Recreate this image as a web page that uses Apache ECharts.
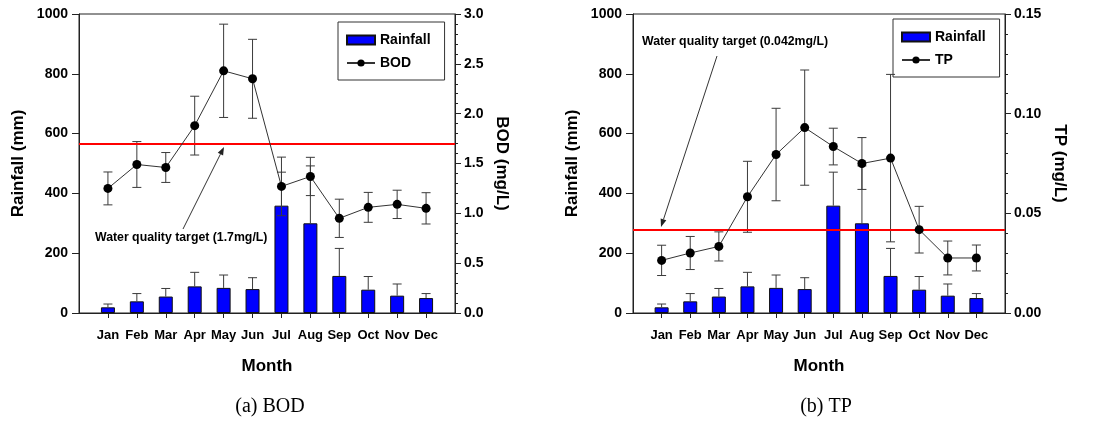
<!DOCTYPE html>
<html>
<head>
<meta charset="utf-8">
<script src="https://cdn.jsdelivr.net/npm/echarts@6/dist/echarts.min.js"></script>
<style>
html,body{margin:0;padding:0;background:#fff;}
#chart{width:1101px;height:422px;}
</style>
</head>
<body>
<div id="chart"></div>
<script>
// ---- data ----
const months = ['Jan','Feb','Mar','Apr','May','Jun','Jul','Aug','Sep','Oct','Nov','Dec'];
const rainfall = [19, 39, 55, 89, 84, 80, 359, 300, 124, 78, 58, 50];
const rainfallErr = [11, 26, 27, 47, 43, 38, 112, 192, 92, 44, 39, 15];
const bod = [1.25, 1.49, 1.46, 1.88, 2.43, 2.35, 1.27, 1.37, 0.95, 1.06, 1.09, 1.05];
const bodErr = [0.165, 0.23, 0.15, 0.295, 0.468, 0.396, 0.294, 0.192, 0.192, 0.15, 0.142, 0.157];
const tp = [0.0264, 0.0301, 0.0334, 0.0583, 0.0795, 0.0930, 0.0835, 0.0750, 0.0777, 0.0418, 0.0276, 0.0276];
const tpErr = [0.0076, 0.0083, 0.0073, 0.0178, 0.0232, 0.0289, 0.0092, 0.013, 0.042, 0.0117, 0.0085, 0.0065];
const bodTarget = 1.7;
const tpTarget = 0.042;
const rainTicks = [0, 1000, 200];
const bodTicks = [0, 3.0, 0.5];
const tpTicks = [0, 0.15, 0.05];

// ---- build ----
const xCats = [''].concat(months).concat(['']);
const FONT = 'Liberation Sans, Arial, sans-serif';
const AXC = '#222';

function errRender(lowCap) {
  return function (params, api) {
    const x = api.value(0);
    const lo = api.value(1), hi = api.value(2);
    const pHi = api.coord([x, hi]);
    const pLo = api.coord([x, lo]);
    const h = 4.5;
    const st = { stroke: '#3a3a3a', lineWidth: 1 };
    const ch = [
      { type: 'line', shape: { x1: pHi[0], y1: pHi[1], x2: pLo[0], y2: pLo[1] }, style: st },
      { type: 'line', shape: { x1: pHi[0] - h, y1: pHi[1], x2: pHi[0] + h, y2: pHi[1] }, style: st }
    ];
    if (lowCap) ch.push({ type: 'line', shape: { x1: pLo[0] - h, y1: pLo[1], x2: pLo[0] + h, y2: pLo[1] }, style: st });
    return { type: 'group', children: ch };
  };
}

function xAxis(gi) {
  return {
    type: 'category', gridIndex: gi, data: xCats, boundaryGap: false,
    axisLine: { lineStyle: { color: AXC, width: 1 } },
    axisTick: { length: 5, interval: (i, v) => v !== '', lineStyle: { color: AXC } },
    axisLabel: { interval: (i, v) => v !== '', margin: 16, fontFamily: FONT, fontWeight: 'bold', fontSize: 13, color: '#000' },
    name: 'Month', nameLocation: 'middle', nameGap: 45,
    nameTextStyle: { fontFamily: FONT, fontWeight: 'bold', fontSize: 17, color: '#000' },
    splitLine: { show: false }
  };
}
function leftAxis(gi) {
  return {
    type: 'value', gridIndex: gi, min: rainTicks[0], max: rainTicks[1], interval: rainTicks[2],
    position: 'left',
    axisLine: { show: true, lineStyle: { color: AXC } },
    axisTick: { show: true, length: 7, lineStyle: { color: AXC } },
    axisLabel: { margin: 11, fontFamily: FONT, fontWeight: 'bold', fontSize: 14, color: '#000',
      formatter: v => String(v) },
    splitLine: { show: false },
    name: 'Rainfall (mm)', nameLocation: 'middle', nameGap: 52, nameRotate: 90,
    nameTextStyle: { fontFamily: FONT, fontWeight: 'bold', fontSize: 17, color: '#000' }
  };
}
function rightAxis(gi, t, name, dec) {
  return {
    type: 'value', gridIndex: gi, min: t[0], max: t[1], interval: t[2],
    position: 'right',
    axisLine: { show: true, lineStyle: { color: AXC } },
    axisTick: { show: true, length: 6, lineStyle: { color: AXC } },
    minorTick: { show: true, splitNumber: 5, length: 3, lineStyle: { color: AXC } },
    axisLabel: { margin: 9, fontFamily: FONT, fontWeight: 'bold', fontSize: 14, color: '#000',
      formatter: v => v.toFixed(dec) },
    splitLine: { show: false },
    name: name, nameLocation: 'middle', nameGap: dec === 1 ? 38 : 46, nameRotate: -90,
    nameTextStyle: { fontFamily: FONT, fontWeight: 'bold', fontSize: 17, color: '#000' }
  };
}

function panelSeries(gi, vals, errs, target, nm) {
  const yl = gi * 2, yr = gi * 2 + 1;
  return [
    {
      name: 'Rainfall', type: 'bar', xAxisIndex: gi, yAxisIndex: yl, barWidth: 14, z: 2,
      data: months.map((m, i) => [m, rainfall[i]]),
      itemStyle: { color: '#0000FF', borderColor: '#111', borderWidth: 1 }
    },
    {
      type: 'custom', xAxisIndex: gi, yAxisIndex: yl, z: 3, renderItem: errRender(false),
      encode: { x: 0, y: [1, 2] },
      data: months.map((m, i) => [m, rainfall[i], rainfall[i] + rainfallErr[i]])
    },
    {
      type: 'custom', xAxisIndex: gi, yAxisIndex: yr, z: 4, renderItem: errRender(true),
      encode: { x: 0, y: [1, 2] },
      data: months.map((m, i) => [m, vals[i] - errs[i], vals[i] + errs[i]])
    },
    {
      name: nm, type: 'line', xAxisIndex: gi, yAxisIndex: yr, z: 6,
      data: months.map((m, i) => [m, vals[i]]),
      symbol: 'circle', symbolSize: 9,
      lineStyle: { color: '#333', width: 1 },
      itemStyle: { color: '#000' },
      markLine: {
        silent: true, symbol: 'none', z: 5, precision: 5,
        lineStyle: { color: '#FF0000', width: 2, type: 'solid' },
        label: { show: false },
        data: [{ yAxis: target }]
      }
    }
  ];
}

function legend(left, top, nm) {
  return {
    orient: 'vertical', left: left, top: top, show: true,
    borderColor: '#333', borderWidth: 1, padding: [11, 14, 10, 8], itemGap: 9,
    itemWidth: 28, itemHeight: 9,
    textStyle: { fontFamily: FONT, fontWeight: 'bold', fontSize: 14, color: '#000' },
    data: [{ name: 'Rainfall', icon: 'rect' }, { name: nm }]
  };
}

function annotText(x, y, s) {
  return { type: 'text', left: x, top: y, style: { text: s, font: 'bold 12.3px ' + FONT, fill: '#000' } };
}
function arrow(x1, y1, x2, y2) {
  const ang = Math.atan2(y2 - y1, x2 - x1), L = 8, W = 3;
  const bx = x2 - L * Math.cos(ang), by = y2 - L * Math.sin(ang);
  const px = -Math.sin(ang) * W, py = Math.cos(ang) * W;
  return [
    { type: 'line', shape: { x1: x1, y1: y1, x2: bx, y2: by }, style: { stroke: '#333', lineWidth: 1 } },
    { type: 'polygon', shape: { points: [[x2, y2], [bx + px, by + py], [bx - px, by - py]] }, style: { fill: '#222' } }
  ];
}

const chart = echarts.init(document.getElementById('chart'), null, { renderer: 'canvas' });
chart.setOption({
  animation: false,
  backgroundColor: '#fff',
  grid: [
    { left: 79, top: 14, width: 376, height: 299, show: true, borderColor: '#222', borderWidth: 1 },
    { left: 633, top: 14, width: 372, height: 299, show: true, borderColor: '#222', borderWidth: 1 }
  ],
  xAxis: [xAxis(0), xAxis(1)],
  yAxis: [leftAxis(0), rightAxis(0, bodTicks, 'BOD (mg/L)', 1), leftAxis(1), rightAxis(1, tpTicks, 'TP (mg/L)', 2)],
  legend: [legend(338, 22, 'BOD'), legend(893, 19, 'TP')],
  series: panelSeries(0, bod, bodErr, bodTarget, 'BOD').concat(panelSeries(1, tp, tpErr, tpTarget, 'TP')),
  graphic: [
    annotText(95, 232, 'Water quality target (1.7mg/L)'),
    annotText(642, 36, 'Water quality target (0.042mg/L)'),
    ...arrow(183, 229, 224, 147),
    ...arrow(717, 56, 661, 227),
    { type: 'text', x: 270, y: 407, style: { text: '(a) BOD', font: '20px "Liberation Serif", "Times New Roman", serif', fill: '#000', align: 'center', verticalAlign: 'middle' } },
    { type: 'text', x: 826, y: 407, style: { text: '(b) TP', font: '20px "Liberation Serif", "Times New Roman", serif', fill: '#000', align: 'center', verticalAlign: 'middle' } }
  ]
});
</script>
</body>
</html>
